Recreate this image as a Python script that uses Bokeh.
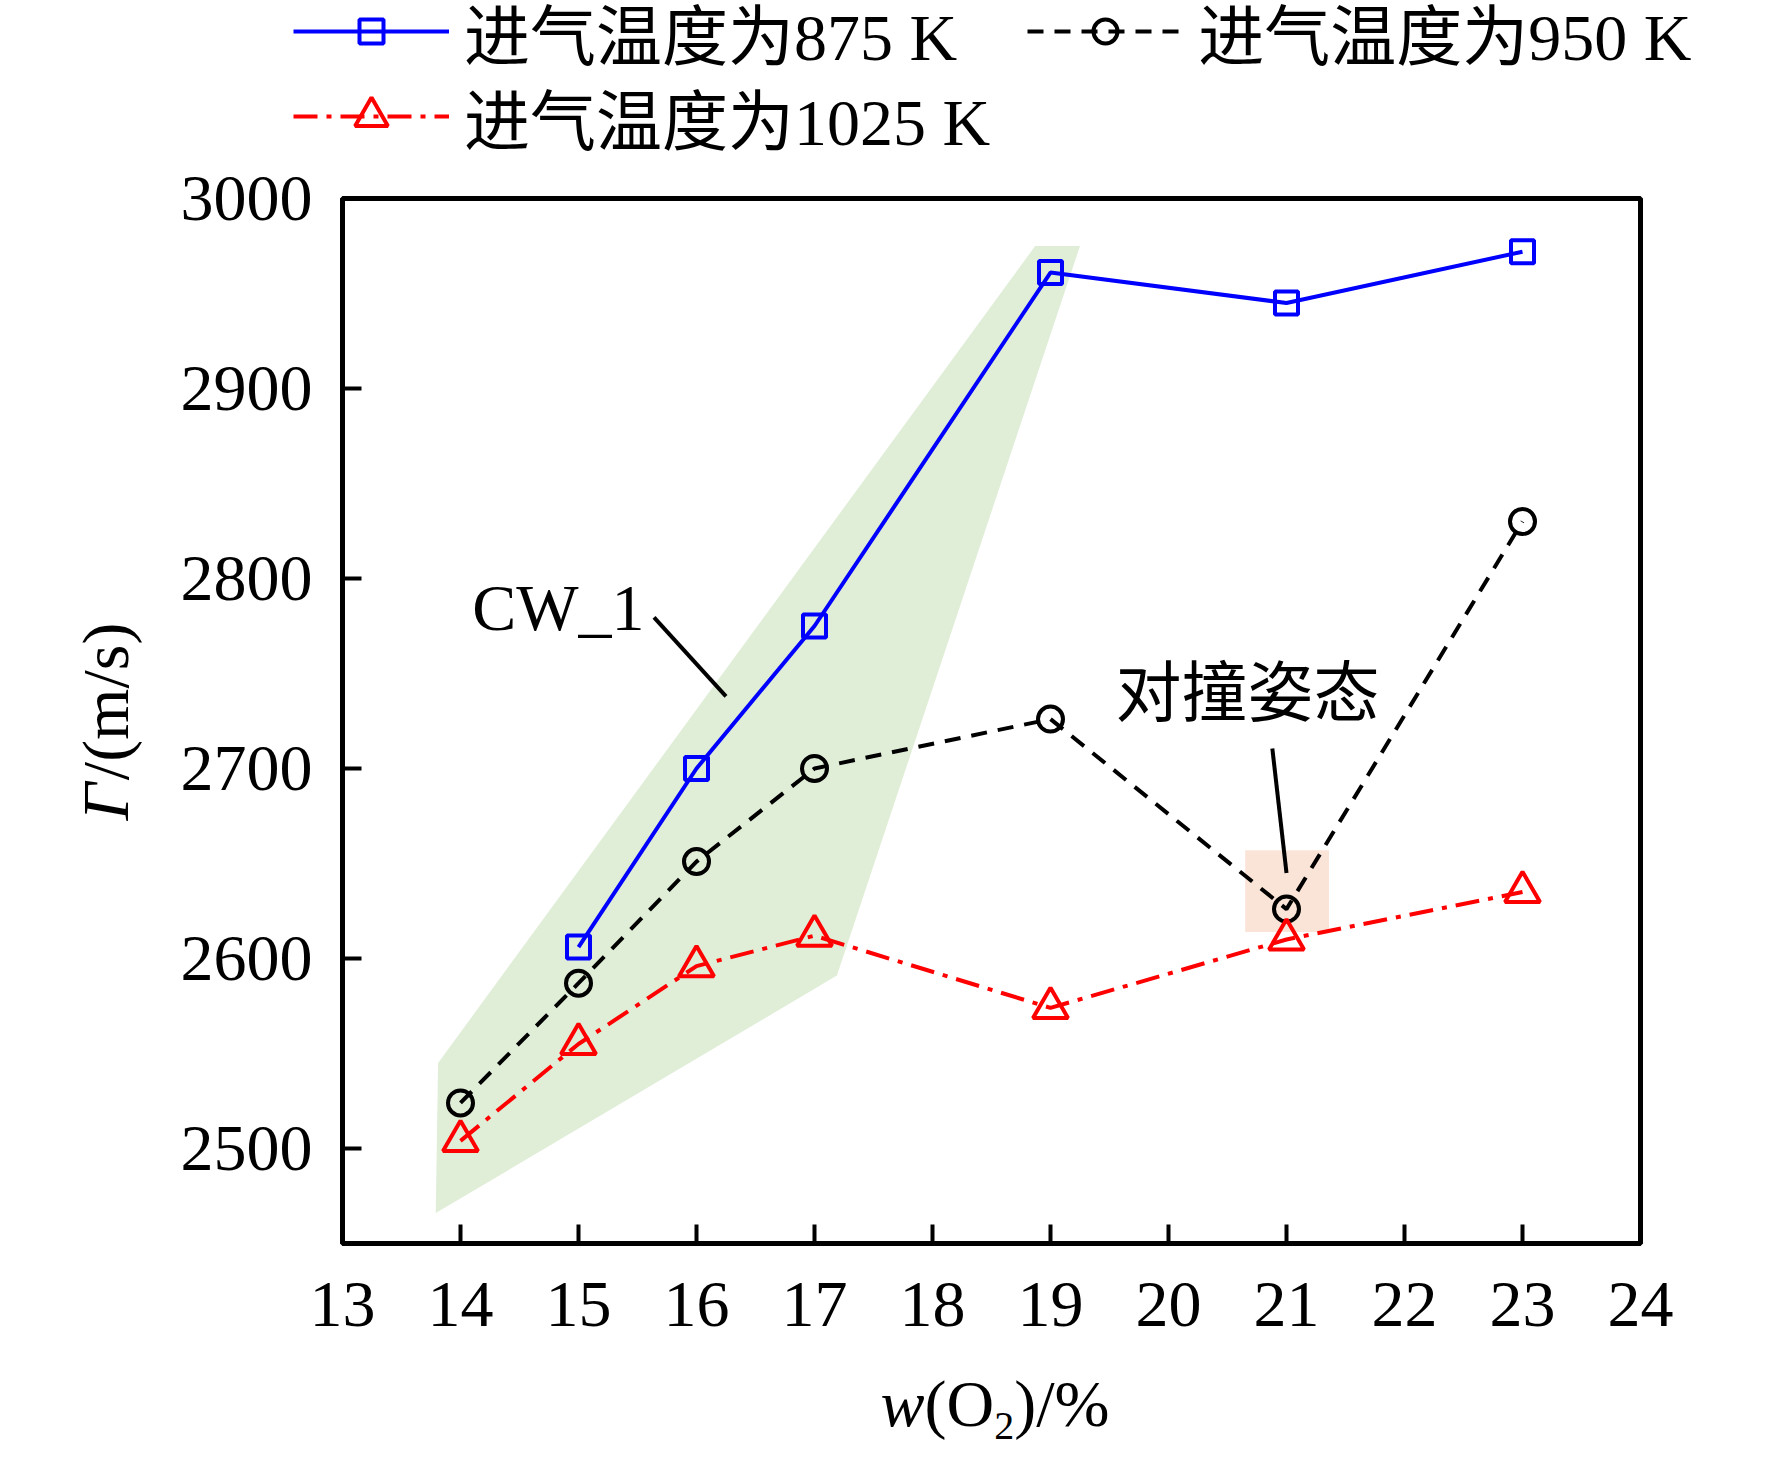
import math
from bokeh.plotting import figure
from bokeh.layouts import column, row
from bokeh.models import Range1d, Legend, LegendItem, Label, FixedTicker
from bokeh.embed import file_html
from bokeh.resources import INLINE

# ---------------- data ----------------
x_875 = [15, 16, 17, 19, 21, 23]
y_875 = [2606, 2700, 2775, 2961, 2945, 2972]

x_950 = [14, 15, 16, 17, 19, 21, 23]
y_950 = [2524, 2587, 2651, 2700, 2726, 2626, 2830]

x_1025 = [14, 15, 16, 17, 19, 21, 23]
y_1025 = [2504, 2555, 2596, 2612, 2574, 2610, 2635]

label_875 = "进气温度为875 K"
label_950 = "进气温度为950 K"
label_1025 = "进气温度为1025 K"

# axis titles, split into pieces so that only the variable is italic
x_title_parts = ["w", "(O", "2", ")/%"]
y_title_parts = ["Γ", "/(m/s)"]

# shaded region "CW_1"
cw_x = [13.81, 18.87, 19.25, 17.19, 13.79]
cw_y = [2545, 2975, 2975, 2591, 2466]

# highlighted box "对撞姿态"
box_left, box_right = [20.65], [21.36]
box_bottom, box_top = [2614], [2657]

# annotations
ann_text = ["CW_1", "对撞姿态"]
ann_x = [14.83, 20.67]
ann_y = [2785, 2739.5]
lead_x0 = [15.64, 20.88]
lead_y0 = [2779.5, 2710.5]
lead_x1 = [16.25, 21.0]
lead_y1 = [2738, 2645]

x_ticks = list(range(13, 25))
y_ticks = [2500, 2600, 2700, 2800, 2900, 3000]

FONT = "'Liberation Serif', 'Noto Sans CJK SC'"
FS = "66px"

BLUE, BLACK, RED = "#0000ff", "black", "#ff0000"
LW = 4


def helper_fig(w, h):
    f = figure(width=w, height=h, output_backend="svg", toolbar_location=None,
               x_range=Range1d(0, 1), y_range=Range1d(0, 1),
               x_axis_location=None, y_axis_location=None,
               min_border_left=0, min_border_right=0,
               min_border_top=0, min_border_bottom=0)
    f.outline_line_color = None
    f.xgrid.visible = False
    f.ygrid.visible = False
    return f


def draw_series(f):
    r = {}
    r["l1"] = f.line(x_875, y_875, line_color=BLUE, line_width=LW)
    r["s1"] = f.scatter(x_875, y_875, marker="square", size=23, line_color=BLUE,
                        line_width=LW, fill_color=None)
    r["l2"] = f.line(x_950, y_950, line_color=BLACK, line_width=LW, line_dash="16 11")
    r["s2"] = f.scatter(x_950, y_950, marker="circle", size=25, line_color=BLACK,
                        line_width=LW, fill_color=None)
    r["l3"] = f.line(x_1025, y_1025, line_color=RED, line_width=LW, line_dash="24 9 5 9")
    r["s3"] = f.scatter(x_1025, y_1025, marker="triangle", size=35, line_color=RED,
                        line_width=LW, fill_color=None)
    return r


# ---------------- main chart ----------------
p = figure(width=1604, height=1208, output_backend="svg", toolbar_location=None,
           x_range=Range1d(13, 24), y_range=Range1d(2450, 3000),
           min_border_left=182, min_border_right=124,
           min_border_top=38, min_border_bottom=125)
p.xgrid.visible = False
p.ygrid.visible = False
p.outline_line_color = "black"
p.outline_line_width = 5

for ax in (p.xaxis[0], p.yaxis[0]):
    ax.axis_line_width = 5
    ax.major_tick_in = 19
    ax.major_tick_out = 0
    ax.major_tick_line_width = 4
    ax.minor_tick_line_color = None
    ax.major_label_text_font = FONT
    ax.major_label_text_font_size = FS
    ax.major_label_text_color = "black"
p.xaxis[0].ticker = FixedTicker(ticks=x_ticks)
p.yaxis[0].ticker = FixedTicker(ticks=y_ticks)
p.xaxis[0].major_label_standoff = 39
p.yaxis[0].major_label_standoff = 30

p.patch(cw_x, cw_y, fill_color="#e0eed8", line_color=None)
p.quad(left=box_left, right=box_right, bottom=box_bottom, top=box_top,
       fill_color="#fae4d7", line_color=None)
draw_series(p)
p.segment(x0=lead_x0, y0=lead_y0, x1=lead_x1, y1=lead_y1, line_color="black", line_width=LW)
for t, xx, yy in zip(ann_text, ann_x, ann_y):
    p.add_layout(Label(x=xx, y=yy, text=t, text_font=FONT, text_color="black",
                       text_font_size=FS, text_align="center", text_baseline="middle"))

# ---------------- legend strip ----------------
leg = helper_fig(1764, 160)
lr = draw_series(leg)


def make_legend(items, loc, gh, spacing):
    return Legend(items=items, location=loc, orientation="horizontal",
                  glyph_width=156, glyph_height=gh, label_height=gh,
                  label_standoff=15, padding=0, margin=0, spacing=spacing,
                  border_line_color=None, background_fill_alpha=0,
                  label_text_font=FONT, label_text_font_size=FS,
                  label_text_color="black")


leg.add_layout(make_legend([LegendItem(label=label_875, renderers=[lr["l1"], lr["s1"]]),
                            LegendItem(label=label_950, renderers=[lr["l2"], lr["s2"]])],
                           (293, 81), 60, 70))
leg.add_layout(make_legend([LegendItem(label=label_1025, renderers=[lr["l3"], lr["s3"]])],
                           (293, -4), 82, 0))


# ---------------- axis titles ----------------
def slabel(x, y, text, size=FS, style="normal", angle=0.0):
    return Label(x=x, y=y, x_units="screen", y_units="screen", text=text,
                 text_font=FONT, text_font_size=size, text_font_style=style,
                 text_color="black", text_align="left", text_baseline="middle",
                 angle=angle)


xlab = helper_fig(1764, 89)
xlab.add_layout(slabel(880, 54, x_title_parts[0], style="italic"))
xlab.add_layout(slabel(924, 54, x_title_parts[1]))
xlab.add_layout(slabel(993.7, 32, x_title_parts[2], size="40px"))
xlab.add_layout(slabel(1013.7, 54, x_title_parts[3]))

ylab = helper_fig(160, 1208)
ylab.add_layout(slabel(105, 423, y_title_parts[0], style="italic", angle=math.pi / 2))
ylab.add_layout(slabel(105, 463.3, y_title_parts[1], angle=math.pi / 2))

layout = column(leg, row(ylab, p), xlab)
open("out.html", "w").write(file_html(layout, INLINE))
